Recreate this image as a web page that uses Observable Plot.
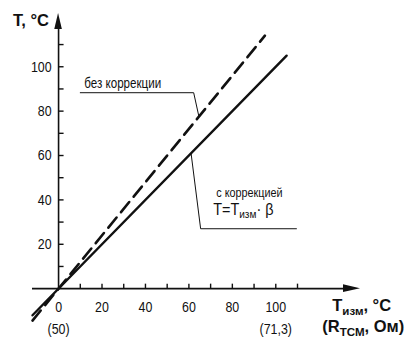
<!DOCTYPE html>
<html><head><meta charset="utf-8">
<script src="https://cdn.jsdelivr.net/npm/d3@7"></script>
<script src="https://cdn.jsdelivr.net/npm/@observablehq/plot@0.6"></script>
<style>
html,body{margin:0;padding:0;background:#fff;}
#chart{width:406px;height:341px;}
</style>
</head><body><div id="chart"></div>
<script>
// --- data ---
const xTicks = [10,20,30,40,50,60,70,80,90,100,110];
const yTicks = [10,20,30,40,50,60,70,80,90,100,110];
const xTickLabels = [0,20,40,60,80,100];
const yTickLabels = [20,40,60,80,100];
const xSecondLabels = [{x:0, t:"(50)"}, {x:100, t:"(71,3)"}];
// T measured vs. T displayed
const measCorr = [-12, 105];
const valCorr = [-12, 105];        // with correction: T = Tизм·β
const measNoCorr = [-12, 95];
const valNoCorr = [-14.4, 114];    // without correction
const leaderNoCorr = [{x:10,y:88.3},{x:62.2,y:88.3},{x:64.6,y:77.6}];
const leaderCorr = [{x:109.5,y:27},{x:65.4,y:27},{x:61,y:61}];
const labelNoCorr = [{x:11.8, y:92.6, t:"без коррекции"}];
const labelCorr = [{x:72.6, y:43.3, t:"с коррекцией"}];
const labelFormula = [{x:71.2, y:35.6, t:"T=T_{изм}· β"}];
const yTitle = [{x:-4.4, y:120.6, t:"T, °C"}];
const xTitles = [
  {x:126, y:-7.9, t:"T_{изм}, °C"},
  {x:121.4, y:-17.3, t:"(R_{ТСМ}, Ом)"}
];
const xArrowEnd = 139, yArrowEnd = 124;

const lineCorr = measCorr.map((x,i)=>({x, y:valCorr[i]}));
const lineNoCorr = measNoCorr.map((x,i)=>({x, y:valNoCorr[i]}));

const ink = "#111";
const font = "'Liberation Sans',Arial,sans-serif";
const tickUp = {draw(ctx){ctx.moveTo(0,0);ctx.lineTo(0,-5);}};

const chart = Plot.plot({
  width:406, height:341,
  marginLeft:32, marginRight:46, marginTop:13, marginBottom:24,
  style:{background:"#fff", fontFamily:font, color:ink},
  x:{domain:[-12,xArrowEnd], axis:null},
  y:{domain:[-13,yArrowEnd], axis:null},
  marks:[
    // axes
    Plot.ruleY([0], {x1:-12, x2:133, stroke:ink, strokeWidth:1.6}),
    Plot.ruleX([0], {y1:0, y2:119, stroke:ink, strokeWidth:1.6}),
    Plot.dot(xTicks, {x:d=>d, y:0, symbol:tickUp, stroke:ink, strokeWidth:1.4, fill:"none", r:1}),
    Plot.dot(yTicks, {x:0, y:d=>d, symbol:tickUp, rotate:90, stroke:ink, strokeWidth:1.4, fill:"none", r:1}),
    Plot.text(xTickLabels, {x:d=>d, y:0, text:d=>String(d), dy:18, fontSize:15.5, fill:ink, className:"sq80"}),
    Plot.text(xSecondLabels, {x:"x", y:0, text:"t", dy:40, fontSize:15.5, fill:ink, className:"sq80"}),
    Plot.text(yTickLabels, {x:0, y:d=>d, text:d=>String(d), dx:-7, textAnchor:"end", fontSize:15.5, fill:ink, className:"sq80"}),
    // series
    Plot.line(lineNoCorr, {x:"x", y:"y", stroke:ink, strokeWidth:2.6, strokeDasharray:"13,7"}),
    Plot.line(lineCorr, {x:"x", y:"y", stroke:ink, strokeWidth:2.4}),
    // leaders + labels
    Plot.line(leaderNoCorr, {x:"x", y:"y", stroke:ink, strokeWidth:1}),
    Plot.line(leaderCorr, {x:"x", y:"y", stroke:ink, strokeWidth:1}),
    Plot.text(labelNoCorr, {x:"x", y:"y", text:"t", textAnchor:"start", fontSize:14.5, fill:ink, className:"sq80"}),
    Plot.text(labelCorr, {x:"x", y:"y", text:"t", textAnchor:"start", fontSize:13.5, fill:ink, className:"sq80"}),
    Plot.text(labelFormula, {x:"x", y:"y", text:"t", textAnchor:"start", fontSize:16, fill:ink, className:"sq90"}),
    // axis titles
    Plot.text(yTitle, {x:"x", y:"y", text:"t", textAnchor:"end", fontSize:16.5, fontWeight:"bold", fill:ink}),
    Plot.text(xTitles, {x:"x", y:"y", text:"t", textAnchor:"start", fontSize:16.5, fontWeight:"bold", fill:ink})
  ]
});
document.getElementById("chart").appendChild(chart);

// arrowheads at the axis ends, placed through the plot's own scales
const sx = chart.scale("x"), sy = chart.scale("y");
const ax = sx.apply(xArrowEnd), ay0 = sy.apply(0);
const bx = sx.apply(0), by = sy.apply(yArrowEnd);
d3.select(chart).append("path")
  .attr("d", `M${ax},${ay0}L${ax-17},${ay0-3.8}L${ax-17},${ay0+3.8}Z`).attr("fill", ink);
d3.select(chart).append("path")
  .attr("d", `M${bx},${by}L${bx-3.8},${by+16}L${bx+3.8},${by+16}Z`).attr("fill", ink);

// subscripts: turn "_{...}" into real sub tspans
d3.select(chart).selectAll("text").each(function(){
  const el = this;
  const targets = el.querySelector("tspan") ? Array.from(el.querySelectorAll("tspan")) : [el];
  targets.forEach(node=>{
    const s = node.textContent;
    if (!s.includes("_{")) return;
    node.textContent = "";
    const parts = s.split(/(_\{[^}]*\})/);
    let shift = 0;
    parts.forEach(p=>{
      if (!p) return;
      const ts = document.createElementNS("http://www.w3.org/2000/svg","tspan");
      if (p.startsWith("_{")) {
        ts.textContent = p.slice(2,-1);
        ts.setAttribute("font-size","70%");
        ts.setAttribute("dy", "0.28em");
        shift = 1;
      } else {
        ts.textContent = p;
        if (shift) { ts.setAttribute("dy","-0.2em"); shift = 0; }
      }
      node.appendChild(ts);
    });
  });
});
// condensed look for the light text: compress glyphs horizontally
[["sq80",0.8],["sq90",0.9]].forEach(([cls,k])=>{
  d3.select(chart).selectAll(`g.${cls} text`).each(function(){
    const L = this.getComputedTextLength();
    if (L > 0) {
      this.setAttribute("textLength", (L*k).toFixed(1));
      this.setAttribute("lengthAdjust", "spacingAndGlyphs");
    }
  });
});
</script>
</body></html>
